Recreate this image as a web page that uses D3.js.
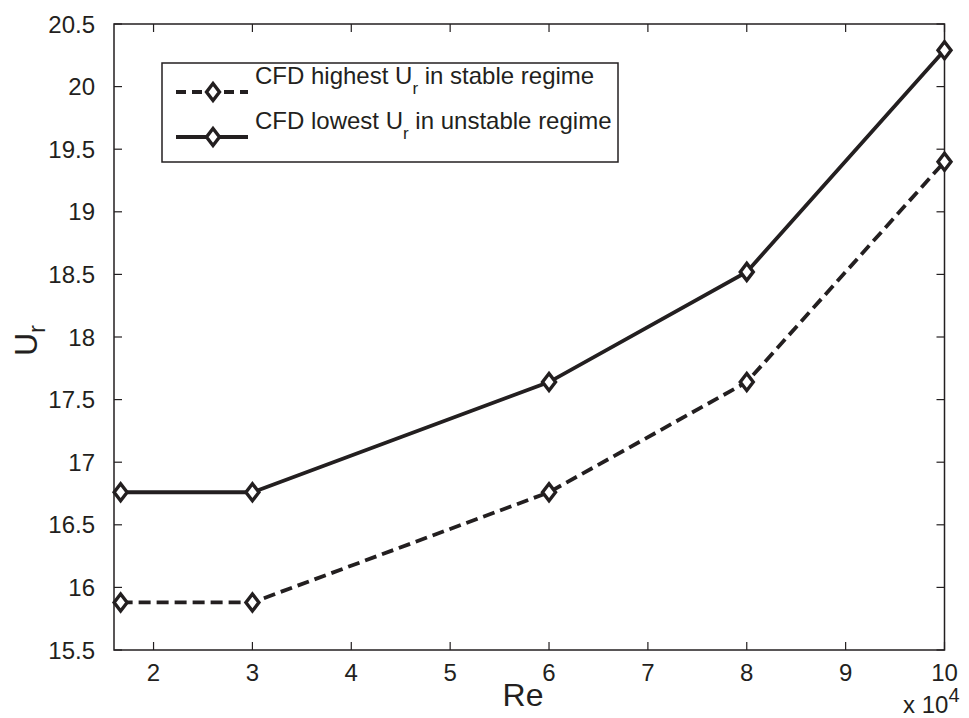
<!DOCTYPE html>
<html>
<head>
<meta charset="utf-8">
<script src="https://cdn.jsdelivr.net/npm/d3@7"></script>
<style>
  body { margin: 0; background: #fff; }
  svg { display: block; font-family: "Liberation Sans", Arial, sans-serif; }
  .axis text { fill: #231f20; }
</style>
</head>
<body>
<svg id="chart" width="969" height="718"></svg>
<script>
// Re values (x 10^4)
const re = [1.667, 3, 6, 8, 10];
const stableHigh = [15.88, 15.88, 16.76, 17.64, 19.40];
const unstableLow = [16.76, 16.76, 17.64, 18.52, 20.29];
const xTicks = [2, 3, 4, 5, 6, 7, 8, 9, 10];
const yTicks = [15.5, 16, 16.5, 17, 17.5, 18, 18.5, 19, 19.5, 20, 20.5];

const INK = '#231f20';
const BOX = { LEFT: 114, RIGHT: 944.5, TOP: 24, BOTTOM: 650 };

const svg = d3.select('#chart');

const x = d3.scaleLinear().domain([1.6, 10]).range([BOX.LEFT, BOX.RIGHT]);
const y = d3.scaleLinear().domain([15.5, 20.5]).range([BOX.BOTTOM, BOX.TOP]);

// frame
svg.append('rect')
  .attr('x', BOX.LEFT).attr('y', BOX.TOP)
  .attr('width', BOX.RIGHT - BOX.LEFT).attr('height', BOX.BOTTOM - BOX.TOP)
  .attr('fill', 'none').attr('stroke', INK).attr('stroke-width', 1.5);

// inward ticks on all four sides
const TICK = 8;
const g = svg.append('g').attr('stroke', INK).attr('stroke-width', 1.2);
xTicks.forEach(t => {
  g.append('line').attr('x1', x(t)).attr('x2', x(t)).attr('y1', BOX.BOTTOM).attr('y2', BOX.BOTTOM - TICK);
  g.append('line').attr('x1', x(t)).attr('x2', x(t)).attr('y1', BOX.TOP).attr('y2', BOX.TOP + TICK);
});
yTicks.forEach(t => {
  g.append('line').attr('y1', y(t)).attr('y2', y(t)).attr('x1', BOX.LEFT).attr('x2', BOX.LEFT + TICK);
  g.append('line').attr('y1', y(t)).attr('y2', y(t)).attr('x1', BOX.RIGHT).attr('x2', BOX.RIGHT - TICK);
});

// tick labels
svg.append('g').attr('class', 'axis')
  .selectAll('text').data(xTicks).enter().append('text')
  .attr('x', d => x(d)).attr('y', 681)
  .attr('text-anchor', 'middle').attr('font-size', 24)
  .text(d => d);

svg.append('g').attr('class', 'axis')
  .selectAll('text').data(yTicks).enter().append('text')
  .attr('x', 95).attr('y', d => y(d) + 8.5)
  .attr('text-anchor', 'end').attr('font-size', 24)
  .text(d => d);

// axis titles
svg.append('text').attr('x', 523).attr('y', 706)
  .attr('text-anchor', 'middle').attr('font-size', 32).attr('fill', INK)
  .text('Re');

const mult = svg.append('text').attr('x', 903).attr('y', 713)
  .attr('font-size', 24).attr('fill', INK);
mult.append('tspan').text('x 10');
mult.append('tspan').attr('dy', -11).attr('font-size', 20).text('4');

const ylab = svg.append('text')
  .attr('transform', 'translate(37, 356) rotate(-90)')
  .attr('font-size', 32).attr('fill', INK);
ylab.append('tspan').text('U');
ylab.append('tspan').attr('dy', 8).attr('font-size', 24).text('r');

// series
const series = [
  { name: 'highest', values: stableHigh, dash: '12,6', label: ['CFD highest U', ' in stable regime'] },
  { name: 'lowest', values: unstableLow, dash: null, label: ['CFD lowest U', ' in unstable regime'] }
];

const line = d3.line().x((d, i) => x(re[i])).y(d => y(d));

function diamond(sel, cx, cy) {
  sel.append('path')
    .attr('d', `M${cx},${cy - 8.5}L${cx + 6.5},${cy}L${cx},${cy + 8.5}L${cx - 6.5},${cy}Z`)
    .attr('fill', '#fff').attr('stroke', INK).attr('stroke-width', 3.4)
    .attr('stroke-linejoin', 'miter');
}

series.forEach(s => {
  svg.append('path').datum(s.values)
    .attr('d', line)
    .attr('fill', 'none').attr('stroke', INK).attr('stroke-width', 3.8)
    .attr('stroke-dasharray', s.dash);
  s.values.forEach((v, i) => diamond(svg, x(re[i]), y(v)));
});

// legend
const legend = svg.append('g');
legend.append('rect')
  .attr('x', 162).attr('y', 63).attr('width', 456).attr('height', 99)
  .attr('fill', '#fff').attr('stroke', INK).attr('stroke-width', 1.5);

series.forEach((s, i) => {
  const ly = 92 + i * 45;
  legend.append('line')
    .attr('x1', 176).attr('x2', 248).attr('y1', ly).attr('y2', ly)
    .attr('stroke', INK).attr('stroke-width', 3.8)
    .attr('stroke-dasharray', s.dash ? '10,6' : null);
  diamond(legend, 213, ly);
  const t = legend.append('text')
    .attr('x', 255).attr('y', ly - 8)
    .attr('font-size', 24).attr('fill', INK);
  t.append('tspan').text(s.label[0]);
  t.append('tspan').attr('dy', 10).attr('font-size', 17).text('r');
  t.append('tspan').attr('dy', -10).text(s.label[1]);
});
</script>
</body>
</html>
